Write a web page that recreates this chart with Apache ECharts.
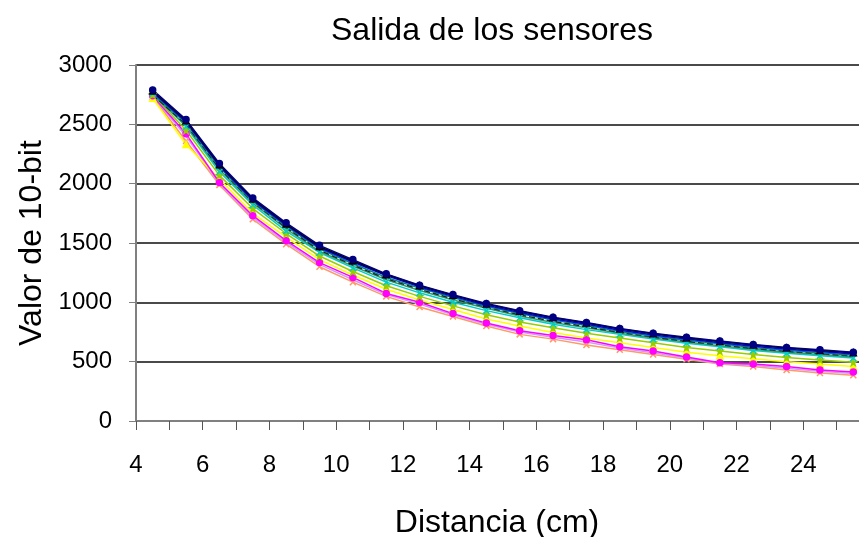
<!DOCTYPE html>
<html>
<head>
<meta charset="utf-8">
<script src="https://cdn.jsdelivr.net/npm/echarts@6/dist/echarts.min.js"></script>
<style>
html,body{margin:0;padding:0;background:#fff;}
#chart{width:859px;height:537px;}
</style>
</head>
<body>
<div id="chart"></div>
<script>
const distances = [4.5,5.5,6.5,7.5,8.5,9.5,10.5,11.5,12.5,13.5,14.5,15.5,16.5,17.5,18.5,19.5,20.5,21.5,22.5,23.5,24.5,25.5];

const sensor1 = [2790,2540,2170,1880,1670,1480,1360,1240,1145,1065,990,930,875,830,780,740,705,675,645,620,600,580];
const sensor2 = [2780,2530,2160,1870,1660,1470,1350,1235,1140,1060,985,925,870,825,775,735,700,670,640,615,595,575];
const sensor3 = [2770,2520,2150,1860,1650,1460,1340,1225,1130,1050,975,915,860,815,765,725,690,660,630,605,585,565];
const sensor4 = [2760,2510,2140,1850,1640,1450,1325,1210,1120,1040,965,905,850,805,755,715,680,650,620,595,575,555];
const sensor5 = [2750,2500,2130,1845,1630,1440,1315,1200,1110,1030,960,895,840,795,748,708,672,642,612,588,568,548];
const sensor6 = [2745,2490,2120,1835,1620,1430,1305,1190,1100,1020,950,885,830,785,740,700,665,635,605,580,560,540];
const sensor7 = [2760,2480,2100,1820,1600,1420,1290,1170,1080,1000,930,870,815,770,730,690,655,625,595,570,550,530];
const sensor8 = [2750,2450,2070,1790,1580,1390,1260,1140,1050,970,895,835,785,740,700,660,620,590,560,535,515,495];
const sensor9 = [2720,2330,2040,1750,1550,1360,1230,1110,1020,940,860,800,745,700,660,620,580,550,525,500,480,460];
const sensor10 = [2740,2420,2010,1730,1520,1335,1210,1075,1000,905,825,760,720,685,625,590,540,490,480,460,430,413];
const sensor11 = [2735,2400,2000,1715,1505,1320,1190,1065,985,895,815,750,705,665,615,575,530,485,470,445,420,400];
const sensor12 = [2730,2360,1990,1700,1490,1300,1170,1050,960,880,800,730,690,640,600,560,520,480,460,430,405,385];

const yTicks = [0,500,1000,1500,2000,2500,3000];

const seriesDefs = [
  {name:'S12', data:sensor12, color:'#FF9966', symbol:'path://M0,0L10,10M10,0L0,10', dash:'solid'},
  {name:'S11', data:sensor11, color:'#CC99FF', symbol:'none', dash:'solid'},
  {name:'S9', data:sensor9, color:'#FFFF00', symbol:'triangle', dash:'solid'},
  {name:'S10', data:sensor10, color:'#FF00FF', symbol:'circle', dash:'solid'},
  {name:'S8', data:sensor8, color:'#99CC00', symbol:'path://M5,0L6.2,3.8L10,3.8L7,6.2L8.1,10L5,7.7L1.9,10L3,6.2L0,3.8L3.8,3.8Z', dash:'solid'},
  {name:'S7', data:sensor7, color:'#00CCCC', symbol:'path://M0,0L10,10M10,0L0,10', dash:'solid'},
  {name:'S6', data:sensor6, color:'#339966', symbol:'none', dash:'solid'},
  {name:'S5', data:sensor5, color:'#222222', symbol:'none', dash:'dashed'},
  {name:'S4', data:sensor4, color:'#008080', symbol:'none', dash:'solid'},
  {name:'S3', data:sensor3, color:'#0000FF', symbol:'none', dash:'solid'},
  {name:'S2', data:sensor2, color:'#000000', symbol:'triangle', dash:'solid'},
  {name:'S1', data:sensor1, color:'#000080', symbol:'circle', dash:'solid'}
];

const chart = echarts.init(document.getElementById('chart'), null, {renderer:'canvas'});
const font = 'Liberation Sans, Arial, sans-serif';

chart.setOption({
  backgroundColor:'#ffffff',
  animation:false,
  title:{
    text:'Salida de los sensores',
    left:326, top:10,
    textStyle:{fontFamily:font, fontSize:32, fontWeight:'normal', color:'#000'}
  },
  grid:{left:136, top:65, width:734, bottom:116, containLabel:false, outerBoundsMode:'none'},
  xAxis:{
    type:'value', min:4, max:26, interval:1,
    name:'Distancia (cm)', nameLocation:'middle', nameGap:86,
    nameTextStyle:{fontFamily:font, fontSize:32, color:'#000', padding:[0,12,0,0]},
    axisLine:{show:true, lineStyle:{color:'#808080', width:2}},
    axisTick:{show:true, inside:false, length:9, lineStyle:{color:'#555', width:1}},
    axisLabel:{fontFamily:font, fontSize:24, color:'#000', margin:32,
      formatter:function(v){ return (v%2===0 && v<26) ? String(v) : ''; }},
    splitLine:{show:false}
  },
  yAxis:{
    type:'value', min:yTicks[0], max:yTicks[yTicks.length-1], interval:500,
    name:'Valor de 10-bit', nameLocation:'middle', nameGap:86, nameRotate:90,
    nameTextStyle:{fontFamily:font, fontSize:32, color:'#000'},
    axisLine:{show:true, lineStyle:{color:'#808080', width:2}},
    axisTick:{show:true, length:7, lineStyle:{color:'#808080'}},
    axisLabel:{fontFamily:font, fontSize:24, color:'#000', margin:24,
      formatter:function(v){ return String(v); }},
    splitLine:{show:true, lineStyle:{color:'#4a4a4a', width:2}}
  },
  series: seriesDefs.map(function(s){
    return {
      name:s.name, type:'line',
      data: distances.map(function(d,i){ return [d, s.data[i]]; }),
      symbol:s.symbol, symbolSize:6,
      showSymbol: s.symbol !== 'none',
      lineStyle:{color:s.color, width:1.5, type:s.dash},
      itemStyle:{color:s.color, borderColor:s.color, borderWidth:1.5},
      z:2
    };
  })
});
</script>
</body>
</html>
